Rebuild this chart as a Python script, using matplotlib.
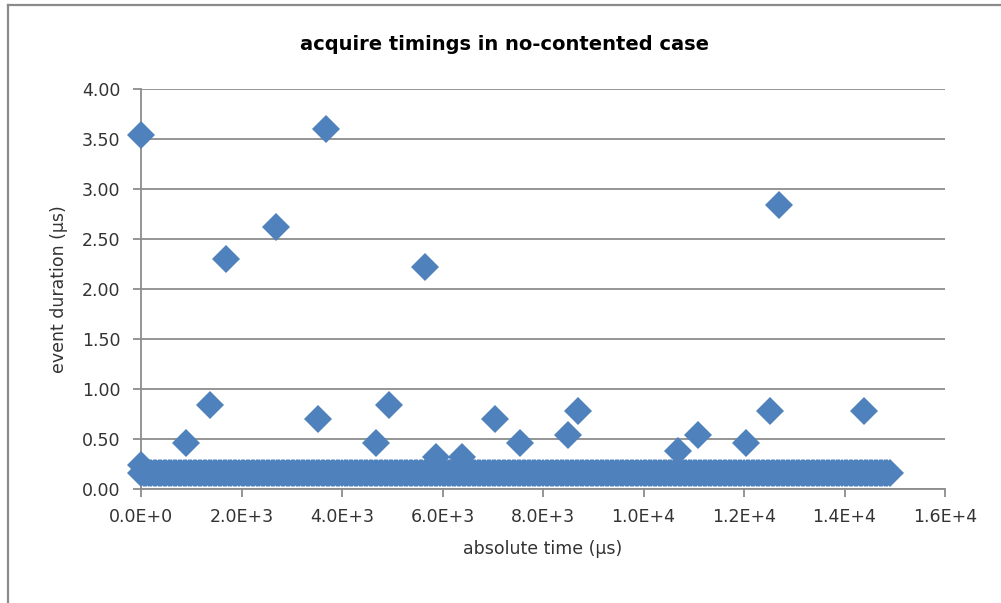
import matplotlib
matplotlib.use("Agg")
import matplotlib.pyplot as plt
from matplotlib.lines import Line2D

# ---- data ----
title = "acquire timings in no-contented case"
x_label = "absolute time (µs)"
y_label = "event duration (µs)"

# outlier events (absolute time µs, duration µs)
outlier_x = [0, 0, 900, 1370, 1690, 2690, 3520, 3680, 4680, 4930, 5650, 5870,
             6390, 7040, 7540, 8500, 8700, 10690, 11090, 12040, 12520, 12700, 14390]
outlier_y = [3.54, 0.24, 0.46, 0.84, 2.30, 2.62, 0.70, 3.60, 0.46, 0.84, 2.22, 0.32,
             0.32, 0.70, 0.46, 0.54, 0.78, 0.38, 0.54, 0.46, 0.78, 2.84, 0.78]

# dense baseline events (all at ~0.16 µs)
band_x = [0, 50, 100, 150, 200, 250, 300, 350, 400, 450,
          500, 550, 600, 650, 700, 750, 800, 850, 900, 950,
          1000, 1050, 1100, 1150, 1200, 1250, 1300, 1350, 1400, 1450,
          1500, 1550, 1600, 1650, 1700, 1750, 1800, 1850, 1900, 1950,
          2000, 2050, 2100, 2150, 2200, 2250, 2300, 2350, 2400, 2450,
          2500, 2550, 2600, 2650, 2700, 2750, 2800, 2850, 2900, 2950,
          3000, 3050, 3100, 3150, 3200, 3250, 3300, 3350, 3400, 3450,
          3500, 3550, 3600, 3650, 3700, 3750, 3800, 3850, 3900, 3950,
          4000, 4050, 4100, 4150, 4200, 4250, 4300, 4350, 4400, 4450,
          4500, 4550, 4600, 4650, 4700, 4750, 4800, 4850, 4900, 4950,
          5000, 5050, 5100, 5150, 5200, 5250, 5300, 5350, 5400, 5450,
          5500, 5550, 5600, 5650, 5700, 5750, 5800, 5850, 5900, 5950,
          6000, 6050, 6100, 6150, 6200, 6250, 6300, 6350, 6400, 6450,
          6500, 6550, 6600, 6650, 6700, 6750, 6800, 6850, 6900, 6950,
          7000, 7050, 7100, 7150, 7200, 7250, 7300, 7350, 7400, 7450,
          7500, 7550, 7600, 7650, 7700, 7750, 7800, 7850, 7900, 7950,
          8000, 8050, 8100, 8150, 8200, 8250, 8300, 8350, 8400, 8450,
          8500, 8550, 8600, 8650, 8700, 8750, 8800, 8850, 8900, 8950,
          9000, 9050, 9100, 9150, 9200, 9250, 9300, 9350, 9400, 9450,
          9500, 9550, 9600, 9650, 9700, 9750, 9800, 9850, 9900, 9950,
          10000, 10050, 10100, 10150, 10200, 10250, 10300, 10350, 10400, 10450,
          10500, 10550, 10600, 10650, 10700, 10750, 10800, 10850, 10900, 10950,
          11000, 11050, 11100, 11150, 11200, 11250, 11300, 11350, 11400, 11450,
          11500, 11550, 11600, 11650, 11700, 11750, 11800, 11850, 11900, 11950,
          12000, 12050, 12100, 12150, 12200, 12250, 12300, 12350, 12400, 12450,
          12500, 12550, 12600, 12650, 12700, 12750, 12800, 12850, 12900, 12950,
          13000, 13050, 13100, 13150, 13200, 13250, 13300, 13350, 13400, 13450,
          13500, 13550, 13600, 13650, 13700, 13750, 13800, 13850, 13900, 13950,
          14000, 14050, 14100, 14150, 14200, 14250, 14300, 14350, 14400, 14450,
          14500, 14550, 14600, 14650, 14700, 14750, 14800, 14850, 14900]
band_y = [0.16] * len(band_x)

x_ticks = [0, 2000, 4000, 6000, 8000, 10000, 12000, 14000, 16000]
x_tick_labels = ["0.0E+0", "2.0E+3", "4.0E+3", "6.0E+3", "8.0E+3",
                 "1.0E+4", "1.2E+4", "1.4E+4", "1.6E+4"]
y_ticks = [0.0, 0.5, 1.0, 1.5, 2.0, 2.5, 3.0, 3.5, 4.0]
y_tick_labels = ["0.00", "0.50", "1.00", "1.50", "2.00", "2.50", "3.00", "3.50", "4.00"]

# ---- style ----
W, H = 1001, 603
marker_color = "#4F81BD"
grid_color = "#8C8C8C"
text_color = "#333333"
msize = 14.5

fig = plt.figure(figsize=(W / 100, H / 100), dpi=100)
fig.patch.set_facecolor("white")
ax = fig.add_axes([141 / W, 1 - 489 / H, (945 - 141) / W, (489 - 89) / H])

ax.plot(band_x, band_y, linestyle="none", marker="D", markersize=msize,
        color=marker_color, markeredgewidth=0, zorder=3, clip_on=False)
ax.plot(outlier_x, outlier_y, linestyle="none", marker="D", markersize=msize,
        color=marker_color, markeredgewidth=0, zorder=3, clip_on=False)

ax.set_xlim(0, 16000)
ax.set_ylim(0, 4.0)
ax.set_xticks(x_ticks)
ax.set_xticklabels(x_tick_labels)
ax.set_yticks(y_ticks)
ax.set_yticklabels(y_tick_labels)

ax.grid(axis="y", color=grid_color, linewidth=1.3, zorder=1)
ax.set_axisbelow(True)
for s in ["top", "right"]:
    ax.spines[s].set_visible(False)
for s in ["left", "bottom"]:
    ax.spines[s].set_color(grid_color)
    ax.spines[s].set_linewidth(1.3)
    ax.spines[s].set_zorder(2)

ax.tick_params(axis="both", direction="out", length=6, width=1.3,
               color=grid_color, labelsize=12.5, labelcolor=text_color)
ax.tick_params(axis="y", pad=9)
ax.tick_params(axis="x", pad=8)

ax.set_xlabel(x_label, fontsize=12.5, color=text_color, labelpad=10)
ax.set_ylabel(y_label, fontsize=12.5, color=text_color, labelpad=10)

fig.text(505 / W, 1 - 44 / H, title, ha="center", va="center",
         fontsize=14, fontweight="bold", family=["Liberation Sans Narrow", "DejaVu Sans"],
         color="black")

# chart border (top and left edges)
fig.add_artist(Line2D([8 / W, 1.0], [1 - 5 / H, 1 - 5 / H], transform=fig.transFigure,
                      color="#8a8a8a", linewidth=1.6))
fig.add_artist(Line2D([8 / W, 8 / W], [0, 1 - 5 / H], transform=fig.transFigure,
                      color="#8a8a8a", linewidth=1.6))

fig.savefig("out.png", dpi=100)
